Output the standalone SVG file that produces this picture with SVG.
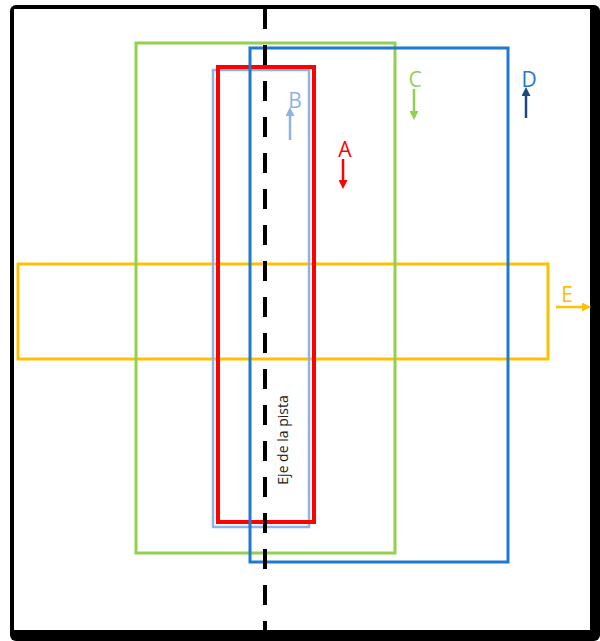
<svg xmlns="http://www.w3.org/2000/svg" width="600" height="641" viewBox="0 0 600 641">
<defs>
<style>
.box{fill:none}
.lbl{font-family:"Open Sans","Liberation Sans",sans-serif;font-size:21px}
.ar{stroke-width:2.5;fill:none}
</style>
<marker id="mA" markerWidth="9" markerHeight="9" refX="4" refY="4.5" orient="auto" markerUnits="userSpaceOnUse"><path d="M0,0 L9,4.5 L0,9 z" fill="#FF0000"/></marker>
<marker id="mB" markerWidth="9" markerHeight="9" refX="4" refY="4.5" orient="auto" markerUnits="userSpaceOnUse"><path d="M0,0 L9,4.5 L0,9 z" fill="#8DB4E2"/></marker>
<marker id="mC" markerWidth="9" markerHeight="9" refX="4" refY="4.5" orient="auto" markerUnits="userSpaceOnUse"><path d="M0,0 L9,4.5 L0,9 z" fill="#92D050"/></marker>
<marker id="mD" markerWidth="9" markerHeight="9" refX="4" refY="4.5" orient="auto" markerUnits="userSpaceOnUse"><path d="M0,0 L9,4.5 L0,9 z" fill="#1F497D"/></marker>
<marker id="mE" markerWidth="9" markerHeight="9" refX="4" refY="4.5" orient="auto" markerUnits="userSpaceOnUse"><path d="M0,0 L9,4.5 L0,9 z" fill="#FFC000"/></marker>
</defs>
<g id="frame">
<rect x="10" y="5" width="590" height="636" rx="6" fill="#000"/>
<rect x="14" y="9" width="576" height="621" fill="#fff"/>
</g>
<g id="nodeE">
<rect class="box" x="18" y="264" width="530" height="95" stroke="#FFC000" stroke-width="3"/>
</g>
<g id="nodeB">
<rect class="box" x="213" y="70" width="96" height="457" stroke="#8DB4E2" stroke-width="2.5"/>
</g>
<g id="nodeA">
<rect class="box" x="218" y="67" width="96" height="455" stroke="#FF0000" stroke-width="4"/>
</g>
<g id="nodeC">
<rect class="box" x="136" y="43" width="259" height="510" stroke="#92D050" stroke-width="3"/>
</g>
<g id="nodeD">
<rect class="box" x="250" y="48" width="258" height="514" stroke="#1F78D1" stroke-width="3"/>
</g>
<g id="axis">
<line x1="265" y1="9" x2="265" y2="630" stroke="#000" stroke-width="4" stroke-dasharray="20 16"/>
<text x="0" y="0" fill="#222" text-anchor="middle" transform="translate(288,440) rotate(-90)" style="font-family:'Open Sans','Liberation Sans',sans-serif;font-size:14px">Eje de la pista</text>
</g>
<g id="connectors">
<line class="ar" x1="290" y1="140" x2="290" y2="112" stroke="#8DB4E2" marker-end="url(#mB)"/>
<line class="ar" x1="343" y1="159" x2="343" y2="184" stroke="#FF0000" marker-end="url(#mA)"/>
<line class="ar" x1="414" y1="89" x2="414" y2="115" stroke="#92D050" marker-end="url(#mC)"/>
<line class="ar" x1="526" y1="118" x2="526" y2="92" stroke="#1F497D" marker-end="url(#mD)"/>
<line class="ar" x1="556" y1="307" x2="586" y2="307" stroke="#FFC000" marker-end="url(#mE)"/>
</g>
<g id="labels">
<text class="lbl" x="295" y="108" fill="#8DB4E2" text-anchor="middle">B</text>
<text class="lbl" x="345" y="157" fill="#FF0000" text-anchor="middle">A</text>
<text class="lbl" x="415" y="87" fill="#92D050" text-anchor="middle">C</text>
<text class="lbl" x="529" y="87" fill="#1F78D1" text-anchor="middle">D</text>
<text class="lbl" x="567" y="302" fill="#FFC000" text-anchor="middle">E</text>
</g>
</svg>
